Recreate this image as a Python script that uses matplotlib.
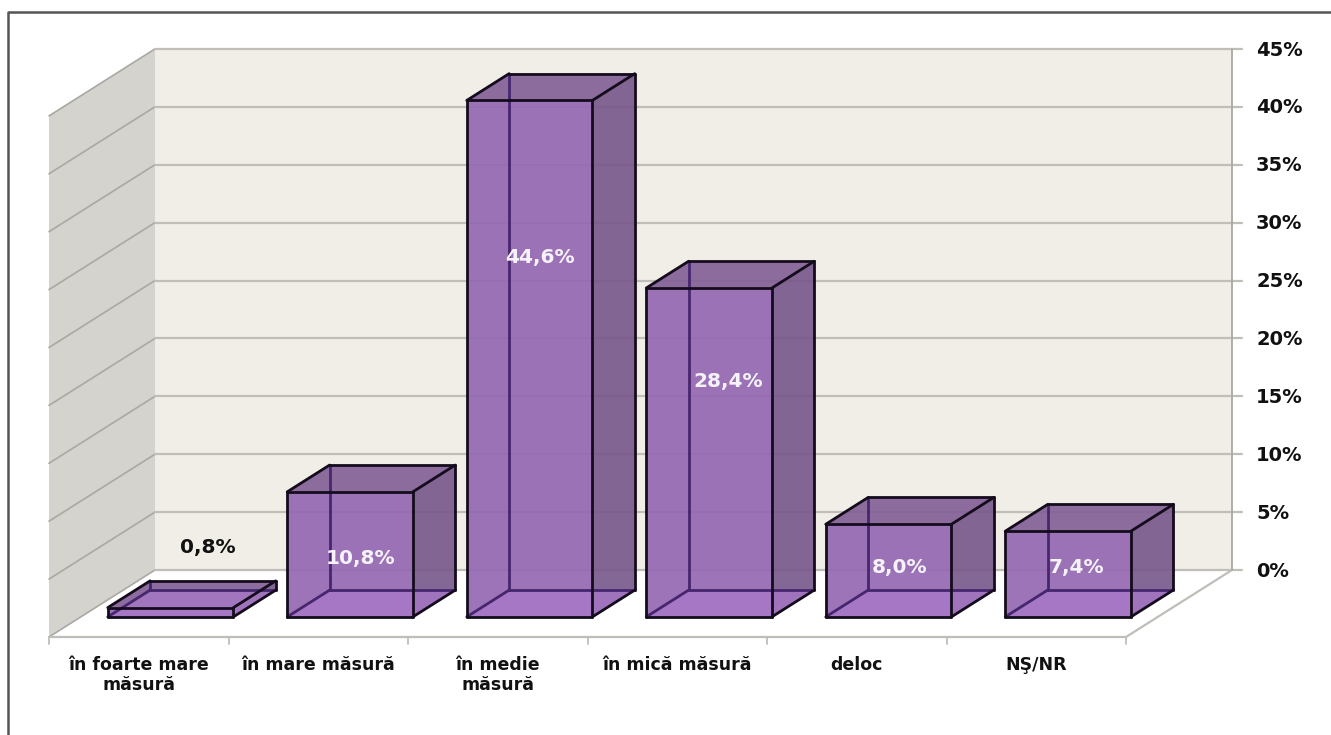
import matplotlib
matplotlib.use('Agg')
import matplotlib.pyplot as plt
from matplotlib.patches import Polygon

categories = ['în foarte mare\nmăsură', 'în mare măsură', 'în medie\nmăsură',
              'în mică măsură', 'deloc', 'NŞ/NR']
values = [0.8, 10.8, 44.6, 28.4, 8.0, 7.4]
value_labels = ['0,8%', '10,8%', '44,6%', '28,4%', '8,0%', '7,4%']
y_ticks = [0, 5, 10, 15, 20, 25, 30, 35, 40, 45]

PX_X = 179.5  # pixels per category
PX_Y = 11.58  # pixels per percent
DEPTH_X = 106 / PX_X  # shift of the back wall, in category units
DEPTH_Y = 67 / PX_Y  # same, in percent units
FONT = 'DejaVu Sans'


def project(x, v, depth=0.0):
    return x + depth * DEPTH_X, v + depth * DEPTH_Y


def face(ax, pts, color, alpha=1.0, z=2):
    ax.add_patch(Polygon(pts, closed=True, facecolor=color, edgecolor='none', alpha=alpha, zorder=z))


def edge(ax, a, b, color, lw, z=3):
    ax.plot([a[0], b[0]], [a[1], b[1]], color=color, lw=lw, zorder=z, solid_capstyle='round')


fig = plt.figure(figsize=(13.31, 7.35), dpi=100)
ax = fig.add_axes([0, 0, 1, 1])
# the axes fill the figure, x in categories and y in percent at the front of the floor
ax.set_xlim(-49 / PX_X, (1331 - 49) / PX_X)
ax.set_ylim(-(735 - 637) / PX_Y, 637 / PX_Y)
ax.axis('off')

n = len(categories)
top = y_ticks[-1]

# walls
face(ax, [project(0, 0, 1), project(n, 0, 1), project(n, top, 1), project(0, top, 1)], '#f1eee8', z=1)
face(ax, [project(0, 0), project(0, 0, 1), project(0, top, 1), project(0, top)], '#d4d3ce', z=1)

grid_color = '#c0beb8'
for t in y_ticks:
    edge(ax, project(0, t), project(0, t, 1), '#a9a8a3', 1.2, z=1.5)
    tick_end = project(n + 10 / PX_X, t, 1)
    edge(ax, project(0, t, 1), tick_end, grid_color, 1.6, z=1.5)
    ax.text(project(n + 24 / PX_X, t, 1)[0], project(n, t - 0.1, 1)[1], f'{t}%', family=FONT, weight='bold',
            fontsize=14, ha='left', va='center', color='#111111')

# floor outline and category ticks
edge(ax, project(0, 0), project(n, 0), grid_color, 1.6, z=1.5)
edge(ax, project(n, 0), project(n, 0, 1), grid_color, 1.6, z=1.5)
edge(ax, project(n, 0, 1), project(n, top, 1), '#a9a8a3', 1.3, z=1.5)
for i in range(n + 1):
    edge(ax, project(i, 0), project(i, -7 / PX_Y), grid_color, 1.3, z=1.5)

# bars
bar_gap = 0.15
d0, d1 = 0.3, 0.7
dark = '#140c1c'
hidden = '#46266e'
for i, v in enumerate(values):
    x0, x1 = i + bar_gap, i + 1 - bar_gap
    fbl, fbr = project(x0, 0, d0), project(x1, 0, d0)
    ftl, ftr = project(x0, v, d0), project(x1, v, d0)
    bbl, bbr = project(x0, 0, d1), project(x1, 0, d1)
    btl, btr = project(x0, v, d1), project(x1, v, d1)
    face(ax, [fbl, fbr, ftr, ftl], '#9365b1', 0.9, z=2.1)
    face(ax, [fbr, bbr, btr, ftr], '#765689', 0.9, z=2.1)
    face(ax, [ftl, ftr, btr, btl], '#815d95', 0.9, z=2.1)
    face(ax, [fbl, fbr, bbr, bbl], '#a878c8', 0.8, z=2.2)
    for a, b in [(bbl, bbr), (bbl, fbl), (bbl, btl)]:
        edge(ax, a, b, hidden, 2.0, z=2.5)
    for a, b in [(fbl, fbr), (fbr, ftr), (ftr, ftl), (ftl, fbl), (ftl, btl), (btl, btr),
                 (btr, ftr), (btr, bbr), (bbr, fbr)]:
        edge(ax, a, b, dark, 2.0, z=3)

# labels sit at a height picked by hand for each bar, on the back wall plane
label_heights = [1.9, 1.0, 27.0, 16.3, 0.2, 0.2]
label_shift = [0.21, 0.06, 0.06, 0.105, 0.06, 0.045]
for i, (txt, h) in enumerate(zip(value_labels, label_heights)):
    y = project(0, h, 1)[1]
    x = i + 0.5 + label_shift[i] + 0.3 * DEPTH_X
    ax.text(x, y, txt, family=FONT, weight='bold', fontsize=14.5, ha='center', va='center',
            color='#111111' if i == 0 else '#f6f2fa', zorder=5)

for i, name in enumerate(categories):
    ax.text(i + 0.5, -19 / PX_Y, name, family=FONT, weight='bold', fontsize=12.5, ha='center', va='top',
            linespacing=1.15, color='#111111')

# outer frame, cropped by the image on the right and at the bottom
x_left = -41 / PX_X
y_top = (637 - 12) / PX_Y
ax.plot([x_left, x_left, (1331 - 49) / PX_X], [-(735 - 637) / PX_Y, y_top, y_top], color='#555555', lw=1.8, zorder=6)

fig.savefig('out.png', dpi=100)
